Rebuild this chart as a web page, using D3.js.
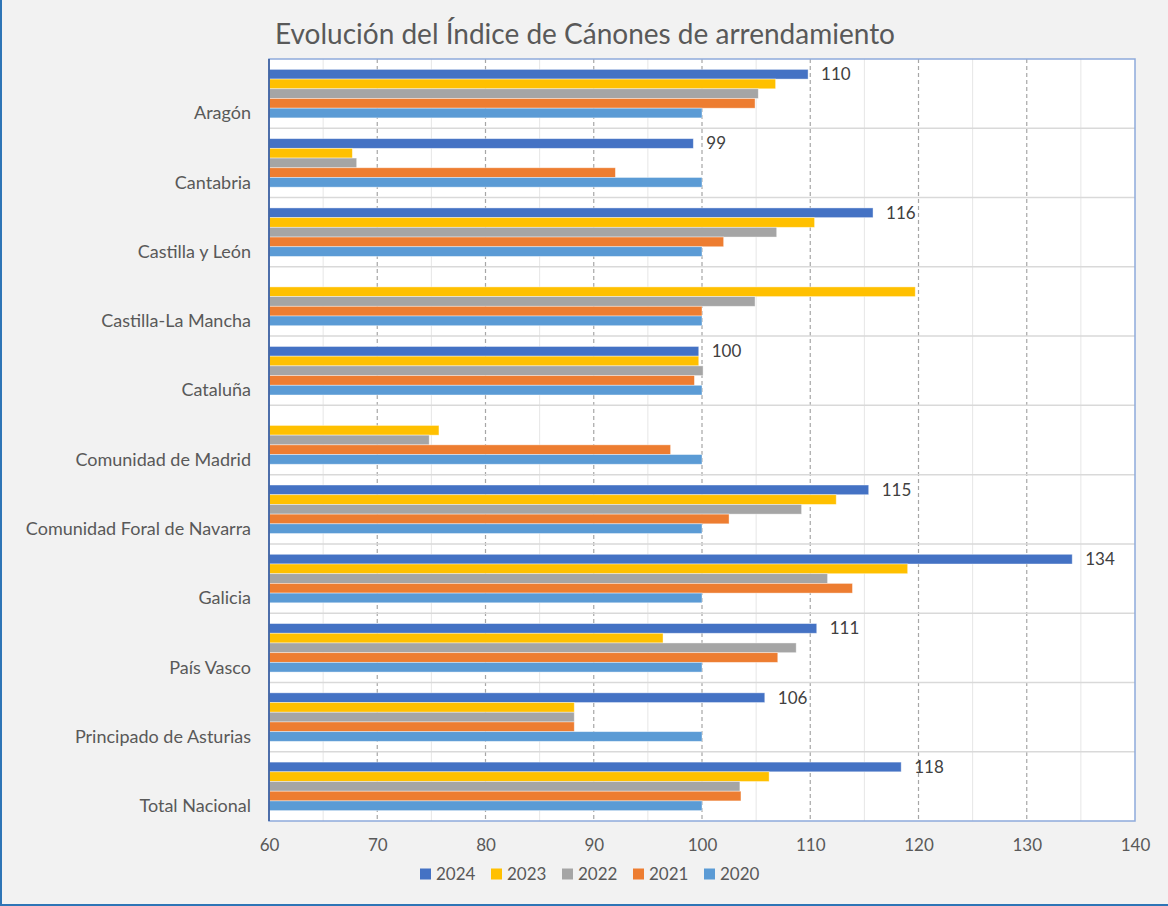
<!DOCTYPE html>
<html>
<head>
<meta charset="utf-8">
<script src="https://cdn.jsdelivr.net/npm/d3@7"></script>
<style>
  html, body { margin: 0; padding: 0; background: #f2f2f2; }
  svg { display: block; }
</style>
</head>
<body>
<svg id="chart" width="1168" height="906"></svg>
<script>
// data
const categories = ["Aragón", "Cantabria", "Castilla y León", "Castilla-La Mancha", "Cataluña",
    "Comunidad de Madrid", "Comunidad Foral de Navarra", "Galicia", "País Vasco",
    "Principado de Asturias", "Total Nacional"];
const years = ["2024", "2023", "2022", "2021", "2020"];
const values2024 = [109.8, 99.2, 115.8, null, 99.7, null, 115.4, 134.2, 110.6, 105.8, 118.4];
const values2023 = [106.8, 67.7, 110.4, 119.7, 99.7, 75.7, 112.4, 119.0, 96.4, 88.2, 106.2];
const values2022 = [105.2, 68.1, 106.9, 104.9, 100.1, 74.8, 109.2, 111.6, 108.7, 88.2, 103.5];
const values2021 = [104.9, 92.0, 102.0, 100.0, 99.3, 97.1, 102.5, 113.9, 107.0, 88.2, 103.6];
const values2020 = [100, 100, 100, 100, 100, 100, 100, 100, 100, 100, 100];
const colors = ["#4472C4", "#FFC000", "#A5A5A5", "#ED7D31", "#5B9BD5"];
const xTicks = [60, 70, 80, 90, 100, 110, 120, 130, 140];
const title = "Evolución del Índice de Cánones de arrendamiento";

const seriesValues = [values2024, values2023, values2022, values2021, values2020];

const svg = d3.select("#chart");
const W = 1168, H = 906;
const font = "Lato, 'Open Sans', sans-serif";
const plot = {left: 269, right: 1135, top: 59, bottom: 821};

// outer frame (only left and bottom edges show)
svg.append("rect").attr("width", W).attr("height", H).attr("fill", "#f2f2f2");
svg.append("line").attr("x1", 1).attr("x2", 1).attr("y1", 0).attr("y2", H - 1)
    .attr("stroke", "#2e75b6").attr("stroke-width", 2);
svg.append("line").attr("x1", 0).attr("x2", W).attr("y1", H - 1).attr("y2", H - 1)
    .attr("stroke", "#2e75b6").attr("stroke-width", 2);

const x = d3.scaleLinear().domain([60, 140]).range([plot.left, plot.right]);
const y = d3.scaleBand().domain(categories).range([plot.top, plot.bottom]);
const yInner = d3.scaleBand().domain(years).range([0, y.bandwidth()]).paddingOuter(1.07);

// plot area
svg.append("rect")
    .attr("x", plot.left).attr("y", plot.top)
    .attr("width", plot.right - plot.left).attr("height", plot.bottom - plot.top)
    .attr("fill", "#fff");

// minor vertical gridlines every 5
const minor = d3.range(65, 140, 10);
svg.append("g").selectAll("line").data(minor).join("line")
    .attr("x1", d => x(d)).attr("x2", d => x(d))
    .attr("y1", plot.top).attr("y2", plot.bottom)
    .attr("stroke", "#e6e6e6").attr("stroke-width", 1);

// major dashed gridlines
svg.append("g").selectAll("line").data(xTicks.slice(1, -1)).join("line")
    .attr("x1", d => x(d)).attr("x2", d => x(d))
    .attr("y1", plot.top).attr("y2", plot.bottom)
    .attr("stroke", "#a6a6a6").attr("stroke-width", 1.2)
    .attr("stroke-dasharray", "4,3");

// category separators
svg.append("g").selectAll("line").data(categories.slice(1)).join("line")
    .attr("x1", plot.left).attr("x2", plot.right)
    .attr("y1", d => y(d)).attr("y2", d => y(d))
    .attr("stroke", "#d9d9d9").attr("stroke-width", 1.5);

// bars
const bars = [];
categories.forEach((c, i) => {
    years.forEach((yr, j) => {
        const v = seriesValues[j][i];
        if (v != null) bars.push({cat: c, year: yr, value: v, color: colors[j]});
    });
});
svg.append("g").selectAll("rect").data(bars).join("rect")
    .attr("x", x(60))
    .attr("y", d => y(d.cat) + yInner(d.year))
    .attr("width", d => x(d.value) - x(60))
    .attr("height", yInner.bandwidth())
    .attr("fill", d => d.color)
    .attr("stroke", "#fff").attr("stroke-width", 0.8).attr("stroke-opacity", 0.5);

// data labels on the 2024 series
svg.append("g").selectAll("text").data(bars.filter(d => d.year === "2024")).join("text")
    .attr("x", d => x(d.value) + 13)
    .attr("y", d => y(d.cat) + yInner(d.year) + yInner.bandwidth() / 2)
    .attr("dy", "0.35em")
    .attr("font-family", font).attr("font-size", 17)
    .attr("fill", "#404040")
    .text(d => Math.round(d.value));

// plot border
svg.append("rect")
    .attr("x", plot.left).attr("y", plot.top)
    .attr("width", plot.right - plot.left).attr("height", plot.bottom - plot.top)
    .attr("fill", "none").attr("stroke", "#8eaadb").attr("stroke-width", 1.5);
svg.append("line")
    .attr("x1", plot.left).attr("x2", plot.left).attr("y1", plot.top).attr("y2", plot.bottom)
    .attr("stroke", "#2f5597").attr("stroke-width", 1.5);

// x axis labels
const xAxis = d3.axisBottom(x).tickValues(xTicks).tickSize(0).tickPadding(18);
const gx = svg.append("g").attr("transform", `translate(0,${plot.bottom})`).call(xAxis);
gx.select(".domain").remove();
gx.selectAll("text").attr("font-family", font).attr("font-size", 17).attr("fill", "#595959");

// category labels, lined up with the last bar of each group as in the source
svg.append("g").selectAll("text").data(categories).join("text")
    .attr("x", 251)
    .attr("y", d => y(d) + yInner("2020") + yInner.bandwidth() / 2)
    .attr("dy", "0.35em")
    .attr("text-anchor", "end")
    .attr("font-family", font).attr("font-size", 18)
    .attr("fill", "#595959")
    .text(d => d);

// title
svg.append("text")
    .attr("x", 585).attr("y", 44)
    .attr("text-anchor", "middle")
    .attr("font-family", font).attr("font-size", 28)
    .attr("fill", "#595959")
    .text(title);

// legend
const legend = svg.append("g").attr("transform", "translate(420,874)");
const item = legend.selectAll("g").data(years).join("g")
    .attr("transform", (d, i) => `translate(${i * 71},0)`);
item.append("rect").attr("x", 0).attr("y", -5.5).attr("width", 11).attr("height", 11)
    .attr("fill", (d, i) => colors[i]);
item.append("text").attr("x", 16).attr("dy", "0.35em")
    .attr("font-family", font).attr("font-size", 17).attr("fill", "#595959")
    .text(d => d);
</script>
</body>
</html>
